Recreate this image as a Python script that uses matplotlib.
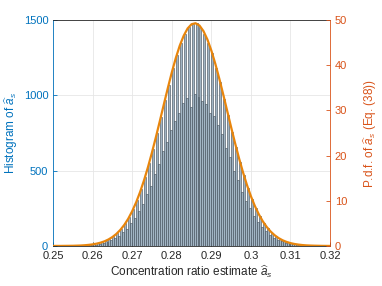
import numpy as np
import matplotlib
matplotlib.use("Agg")
import matplotlib.pyplot as plt

plt.rcParams['font.family'] = ['Liberation Sans', 'DejaVu Sans']
plt.rcParams['mathtext.fontset'] = 'custom'
plt.rcParams['mathtext.it'] = 'Liberation Sans:italic'
plt.rcParams['mathtext.rm'] = 'Liberation Sans'

# histogram of the estimates (bin width 0.0005 starting at 0.255)
bin_start = 0.255
bin_width = 0.0005
counts = [1, 1, 2, 2, 3, 3, 5, 4, 8, 6,
          12, 9, 17, 13, 24, 19, 34, 27, 46, 38,
          65, 50, 87, 68, 113, 90, 151, 115, 192, 150,
          246, 185, 304, 232, 380, 280, 456, 345, 552, 400,
          642, 480, 752, 545, 855, 630, 970, 690, 1070, 770,
          1180, 830, 1265, 880, 1350, 950, 1405, 980, 1455, 920,
          1472, 1010, 1480, 990, 1452, 960, 1410, 940, 1350, 880,
          1280, 860, 1182, 800, 1088, 740, 975, 650, 872, 590,
          758, 500, 660, 440, 555, 360, 470, 300, 382, 250,
          315, 200, 250, 160, 198, 125, 152, 97, 118, 74,
          89, 55, 66, 40, 48, 30, 35, 21, 25, 15,
          17, 10, 12, 7, 8, 5, 5, 3, 4, 2]

# p.d.f. curve, sampled every 0.001 from 0.25 to 0.32
pdf_x = np.round(np.arange(0.250, 0.3205, 0.001), 3)
pdf_y = [0.00, 0.01, 0.01, 0.02, 0.03, 0.04, 0.07, 0.10, 0.16, 0.24,
         0.35, 0.51, 0.73, 1.03, 1.44, 1.98, 2.67, 3.56, 4.67, 6.04,
         7.71, 9.67, 11.96, 14.58, 17.51, 20.72, 24.14, 27.72, 31.37, 34.95,
         38.40, 41.55, 44.30, 46.51, 48.13, 49.07, 49.29, 48.78, 47.56, 45.69,
         43.24, 40.32, 37.04, 33.53, 29.90, 26.27, 22.74, 19.39, 16.30, 13.49,
         11.00, 8.84, 7.00, 5.46, 4.20, 3.18, 2.37, 1.74, 1.26, 0.90,
         0.63, 0.44, 0.30, 0.20, 0.13, 0.09, 0.06, 0.04, 0.02, 0.01, 0.01]

xticks = [0.25, 0.26, 0.27, 0.28, 0.29, 0.30, 0.31, 0.32]
xticklabels = ['0.25', '0.26', '0.27', '0.28', '0.29', '0.3', '0.31', '0.32']

blue = '#0072BD'
red = '#D95319'
curve = '#E8850C'
dark = '#262626'

fig = plt.figure(figsize=(3.82, 2.86), dpi=100)
ax = fig.add_axes([0.139, 0.140, 0.725, 0.790])

edges = bin_start + bin_width * np.arange(len(counts))
ax.bar(edges, counts, width=bin_width, align='edge',
       facecolor='#A2B5C4', edgecolor='#3C4954', linewidth=0.4)
ax.set_xlim(0.25, 0.32)
ax.set_ylim(0, 1500)
ax.set_yticks([0, 500, 1000, 1500])
ax.set_xticks(xticks)
ax.set_xticklabels(xticklabels)
ax.set_axisbelow(True)
ax.grid(True, color='#e6e6e6', linewidth=0.6)
ax.tick_params(axis='both', direction='in', length=3, width=0.6, labelsize=8)
ax.tick_params(axis='x', colors=dark)
ax.tick_params(axis='y', colors=blue)
ax.spines['left'].set_color(blue)
ax.spines['bottom'].set_color(dark)
ax.spines['top'].set_color(dark)
ax.spines['right'].set_visible(False)
for s in ax.spines.values():
    s.set_linewidth(0.6)
ax.set_xlabel(r'Concentration ratio estimate $\widehat{a}_s$', fontsize=8.5,
              color=dark, labelpad=2)
ax.set_ylabel(r'Histogram of $\widehat{a}_s$', fontsize=8.5, color=blue)
ax.yaxis.set_label_coords(-0.12, 0.5)

ax2 = ax.twinx()
ax2.plot(pdf_x, pdf_y, color=curve, linewidth=1.6)
ax2.set_ylim(0, 50)
ax2.set_yticks([0, 10, 20, 30, 40, 50])
ax2.tick_params(axis='y', direction='in', length=3, width=0.6, labelsize=8,
                colors=red)
ax2.spines['right'].set_color(red)
ax2.spines['right'].set_linewidth(0.6)
ax2.spines['left'].set_visible(False)
ax2.spines['top'].set_visible(False)
ax2.spines['bottom'].set_visible(False)
ax2.set_ylabel(r'P.d.f. of $\widehat{a}_s$ (Eq. (38))', fontsize=8.5,
               color=red)
ax2.yaxis.set_label_coords(1.112, 0.5)
ax2.set_xlim(0.25, 0.32)

fig.savefig('out.png', dpi=100)
